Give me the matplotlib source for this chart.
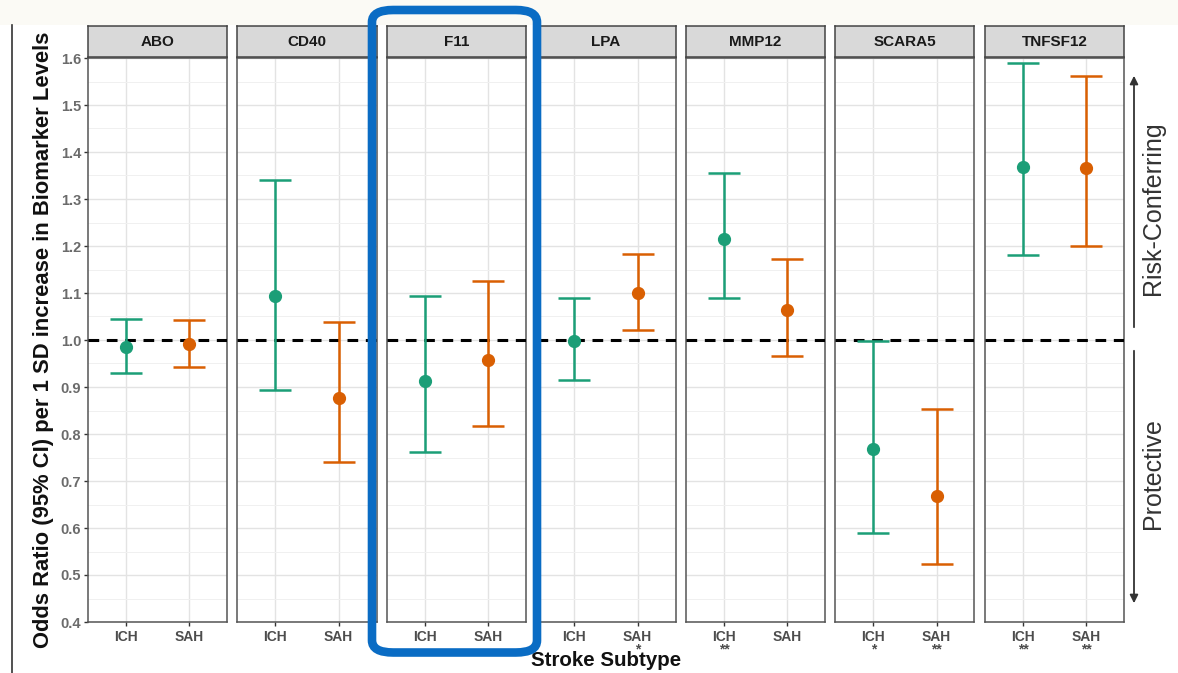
import matplotlib
matplotlib.use("Agg")
import matplotlib.pyplot as plt
from matplotlib.patches import FancyBboxPatch
from matplotlib.lines import Line2D
import numpy as np

plt.rcParams["font.family"] = ["Liberation Sans", "DejaVu Sans"]

# ── Data ─────────────────────────────────────────────────────────────────────
biomarkers = ["ABO", "CD40", "F11", "LPA", "MMP12", "SCARA5", "TNFSF12"]
subtypes = ["ICH", "SAH"]

ich_or = [0.985, 1.093, 0.912, 0.997, 1.215, 0.768, 1.368]
ich_lo = [0.930, 0.893, 0.762, 0.914, 1.090, 0.590, 1.181]
ich_hi = [1.045, 1.340, 1.093, 1.089, 1.355, 0.998, 1.589]

sah_or = [0.992, 0.876, 0.957, 1.099, 1.064, 0.669, 1.367]
sah_lo = [0.942, 0.740, 0.816, 1.022, 0.967, 0.524, 1.199]
sah_hi = [1.043, 1.038, 1.125, 1.184, 1.172, 0.853, 1.561]

ich_sig = ["", "", "", "", "**", "*", "**"]
sah_sig = ["", "", "", "*", "", "**", "**"]

GREEN = "#1b9e77"
ORANGE = "#d95f02"
TICK_GREY = "#4d4d4d"

W, H = 1178, 673
fig = plt.figure(figsize=(W / 100, H / 100), dpi=100, facecolor="white")

# off-white band at top
fig.patches.append(plt.Rectangle((0, 1 - 25 / H), 1, 25 / H, transform=fig.transFigure,
                                 facecolor="#fbfaf5", edgecolor="none", zorder=0))
# left border line
fig.add_artist(Line2D([12 / W, 12 / W], [0, 1 - 25 / H], color="#333333", lw=1.2))

plot_top, plot_bot = 58, 622
strip_top = 26
panel_w = 139
for i, name in enumerate(biomarkers):
    left = 88 + i * 149.5
    ax = fig.add_axes([left / W, 1 - plot_bot / H, panel_w / W, (plot_bot - plot_top) / H])
    ax.set_xlim(0.4, 2.6)
    ax.set_ylim(0.4, 1.6)
    ax.set_yticks(np.arange(0.4, 1.61, 0.1))
    ax.set_yticks(np.arange(0.45, 1.6, 0.1), minor=True)
    ax.set_xticks([1, 2])
    ax.grid(True, which="major", color="#e3e3e3", lw=1.0)
    ax.grid(True, which="minor", axis="y", color="#f0f0f0", lw=0.7)
    ax.set_axisbelow(True)
    for sp in ax.spines.values():
        sp.set_color("#555555")
        sp.set_linewidth(1.1)

    labels = []
    for st, sig in zip(subtypes, [ich_sig[i], sah_sig[i]]):
        labels.append(st + ("\n" + sig if sig else ""))
    ax.set_xticklabels(labels, fontsize=10, fontweight="bold", color=TICK_GREY,
                       va="top", linespacing=0.8)
    ax.tick_params(axis="x", length=3, color="#333333", width=1, pad=3)
    ax.tick_params(axis="y", which="minor", length=0)
    if i == 0:
        ax.set_yticklabels([f"{v:.1f}" for v in np.arange(0.4, 1.61, 0.1)],
                           fontsize=10.5, fontweight="bold", color="#6b6b6b")
        ax.tick_params(axis="y", length=3, color="#333333", width=1, pad=2)
    else:
        ax.tick_params(axis="y", which="both", left=False, labelleft=False)

    ax.axhline(1.0, color="black", lw=2.2, ls=(0, (3.5, 2.5)), zorder=3)

    for x, orv, lo, hi, c in [(1, ich_or[i], ich_lo[i], ich_hi[i], GREEN),
                              (2, sah_or[i], sah_lo[i], sah_hi[i], ORANGE)]:
        ax.errorbar([x], [orv], yerr=[[orv - lo], [hi - orv]], fmt="o", color=c,
                    ms=8.5, elinewidth=1.8, capsize=11.5, capthick=1.8, zorder=4)

    # strip
    sax = fig.add_axes([left / W, 1 - (plot_top - 1) / H, panel_w / W, (plot_top - 1 - strip_top) / H])
    sax.set_facecolor("#d9d9d9")
    sax.set_xticks([])
    sax.set_yticks([])
    for sp in sax.spines.values():
        sp.set_color("#444444")
        sp.set_linewidth(1.1)
    sax.text(0.5, 0.48, name, ha="center", va="center", fontsize=11,
             fontweight="bold", color="#1a1a1a", transform=sax.transAxes)

fig.text(44 / W, 1 - 340 / H, "Odds Ratio (95% CI) per 1 SD increase in Biomarker Levels",
         rotation=90, ha="center", va="center", fontsize=15.8, fontweight="bold", color="#111111")
fig.text(606 / W, 1 - 661 / H, "Stroke Subtype", ha="center", va="center",
         fontsize=14.8, fontweight="bold", color="#111111")

# right-side direction arrows
arrow_x = 1134 / W
fig.add_artist(plt.Annotation("", xy=(arrow_x, 1 - 73 / H), xytext=(arrow_x, 1 - 330 / H),
                              xycoords="figure fraction", textcoords="figure fraction",
                              arrowprops=dict(arrowstyle="-|>", color="#333333", lw=1.3,
                                              mutation_scale=12)))
fig.add_artist(plt.Annotation("", xy=(arrow_x, 1 - 606 / H), xytext=(arrow_x, 1 - 348 / H),
                              xycoords="figure fraction", textcoords="figure fraction",
                              arrowprops=dict(arrowstyle="-|>", color="#333333", lw=1.3,
                                              mutation_scale=12)))
fig.text(1153 / W, 1 - 208 / H, "Risk-Conferring", rotation=90, ha="center", va="center",
         fontsize=18, color="#333333")
fig.text(1153 / W, 1 - 474 / H, "Protective", rotation=90, ha="center", va="center",
         fontsize=18, color="#333333")

# blue highlight box around F11
box = FancyBboxPatch((372 / W, 1 - 652.5 / H), 165 / W, 642.5 / H,
                     boxstyle="round,pad=0,rounding_size=0.018", transform=fig.transFigure,
                     facecolor="none", edgecolor="#0a6cc4", lw=6.2, zorder=10)
fig.patches.append(box)

fig.savefig("out.png", dpi=100, facecolor="white")
